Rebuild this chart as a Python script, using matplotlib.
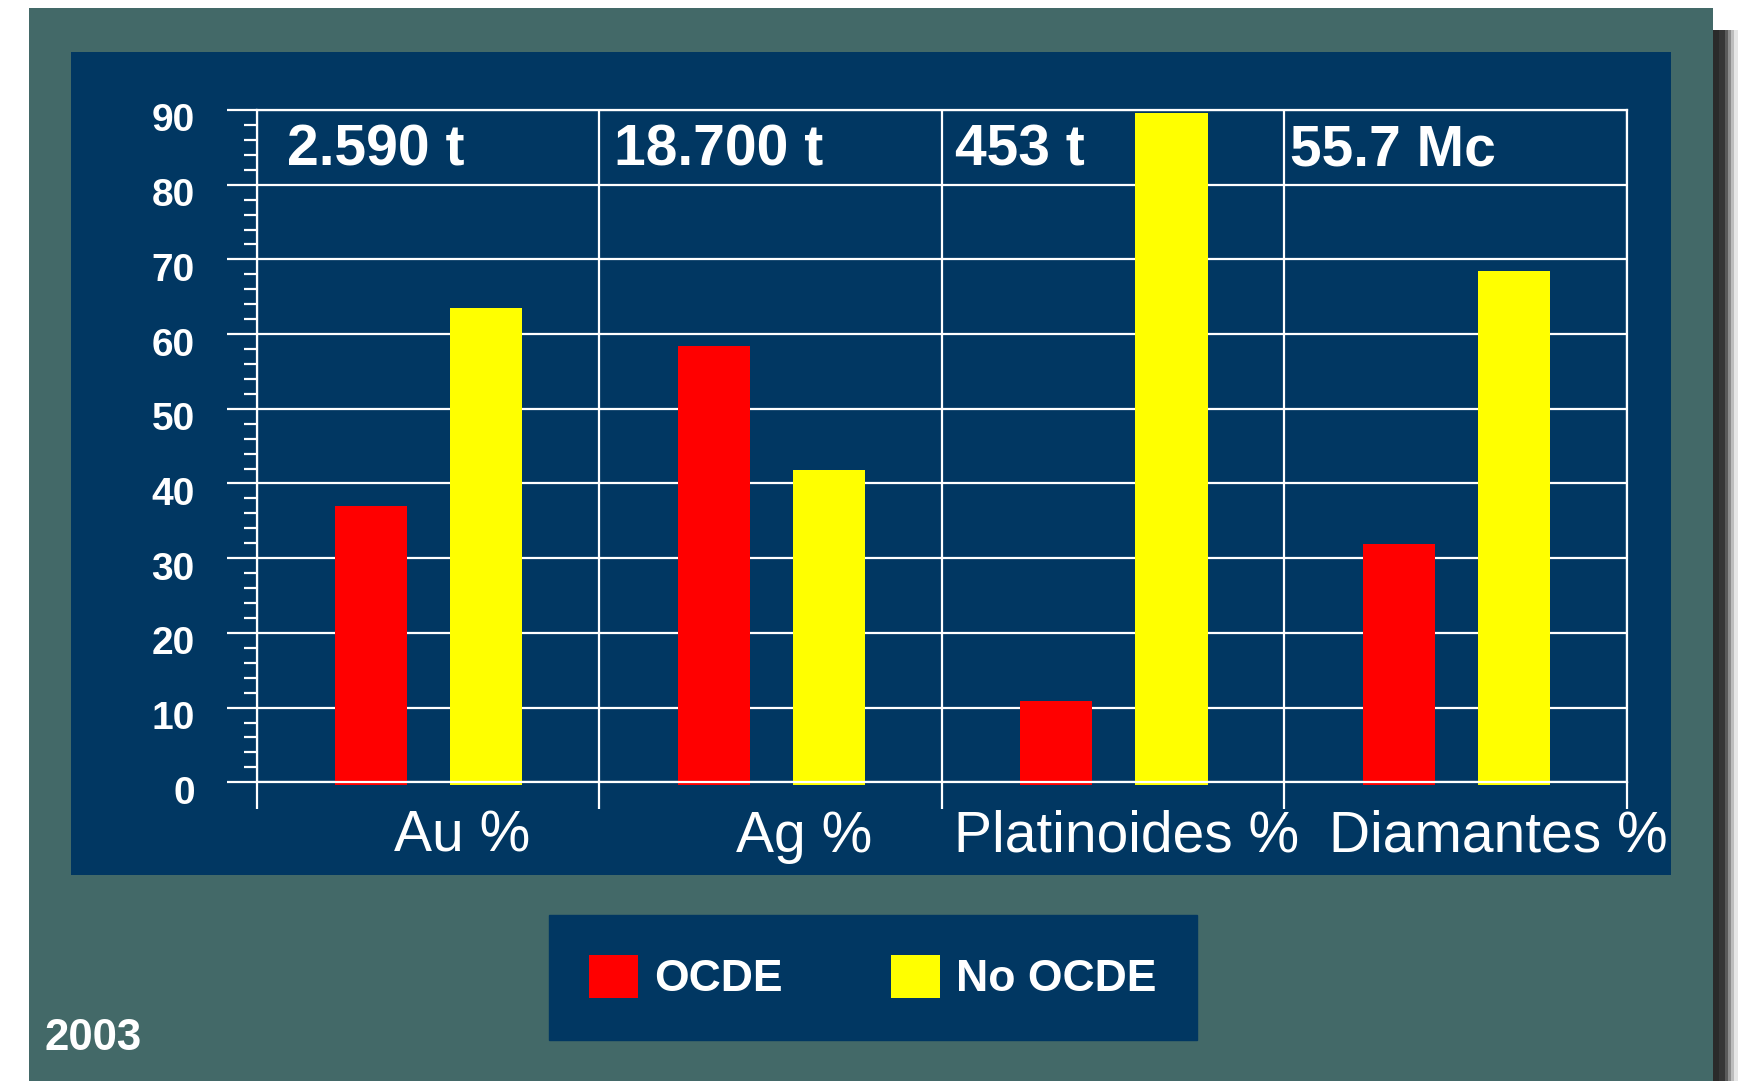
import matplotlib
matplotlib.use('Agg')
import matplotlib.pyplot as plt
from matplotlib.patches import Rectangle, Patch
from matplotlib.transforms import ScaledTranslation
import numpy as np

# data
categories = ['Au %', 'Ag %', 'Platinoides %', 'Diamantes %']
totals = ['2.590 t', '18.700 t', '453 t', '55.7 Mc']
ocde = [37.0, 58.4, 10.9, 31.9]
no_ocde = [63.5, 41.8, 89.6, 68.4]
series_names = ['OCDE', 'No OCDE']
year = '2003'

TEAL = '#436968'
NAVY = '#013762'
W, H = 1741, 1081

plt.rcParams['font.family'] = ['Liberation Sans', 'DejaVu Sans']


def box(x0, y0, x1, y1):
    # pixel box (top-left origin) -> figure fraction rect
    return (x0 / W, 1 - y1 / H, (x1 - x0) / W, (y1 - y0) / H)


def bg_rect(x0, y0, x1, y1, color):
    l, b, w, h = box(x0, y0, x1, y1)
    fig.add_artist(Rectangle((l, b), w, h, transform=fig.transFigure,
                             facecolor=color, edgecolor='none', zorder=-10))


fig = plt.figure(figsize=(W / 100, H / 100), dpi=100, facecolor='white')

# slide background, drop shadow and chart panel
for x0, x1, c in [(1713, 1719, '#2a2a2a'), (1719, 1725, '#363636'), (1725, 1728, '#5a5a5a'),
                  (1728, 1731, '#8c8c8c'), (1731, 1734, '#bdbdbd'), (1734, 1738, '#e6e6e6')]:
    bg_rect(x0, 30, x1, H, c)
bg_rect(29, 8, 1713, H, TEAL)
bg_rect(71, 52, 1671, 875, NAVY)

ax = fig.add_axes(box(256.5, 110, 1626.7, 782.3))
ax.set_facecolor('none')

n = len(categories)
x = np.arange(n) + 0.5
w = 0.211
ax.bar(x - 0.165, np.array(ocde) + 0.4, w, bottom=-0.4, color='#ff0000',
       edgecolor='none', zorder=2, clip_on=False)
ax.bar(x + 0.171, np.array(no_ocde) + 0.4, w, bottom=-0.4, color='#ffff00',
       edgecolor='none', zorder=2, clip_on=False)

ax.set_xlim(0, n)
ax.set_ylim(0, 90)
ax.set_yticks(range(0, 91, 10))
ax.set_yticks(range(0, 91, 2), minor=True)
ax.set_xticks(range(n + 1))
ax.set_xticklabels([''] * (n + 1))

ax.set_axisbelow(True)
ax.grid(True, which='major', color='white', lw=1.6)
for s in ax.spines.values():
    s.set_color('white')
    s.set_linewidth(1.6)
    s.set_zorder(3)

ax.tick_params(axis='y', which='major', length=21.5, width=1.6, color='white',
               pad=23, labelsize=28, labelcolor='white')
ax.tick_params(axis='y', which='minor', length=9.6, width=1.6, color='white')
ax.tick_params(axis='x', which='major', length=19.5, width=1.6, color='white')
# the slide's value labels sit a little below their gridlines
shift = ScaledTranslation(0, -0.075, fig.dpi_scale_trans)
for tick in ax.yaxis.get_major_ticks():
    tick.label1.set_fontweight('bold')
    tick.label1.set_transform(tick.label1.get_transform() + shift)

# category names under the axis
label_x = [0.60, 1.60, 2.54, 3.625]
for lx, name in zip(label_x, categories):
    ax.text(lx, -0.1034, name, transform=ax.get_xaxis_transform(),
            ha='center', va='baseline', fontsize=41, color='white')

# totals in the top row
head_x = [0.088, 1.044, 2.039, 3.017]
for hx, t in zip(head_x, totals):
    ax.text(hx, 82.6, t, ha='left', va='baseline', fontsize=41,
            fontweight='bold', color='white')

handles = [Patch(facecolor='#ff0000', edgecolor='none'),
           Patch(facecolor='#ffff00', edgecolor='none')]
leg = fig.legend(handles, series_names, loc='center', bbox_to_anchor=(0.5013, 0.0955),
                 ncol=2, frameon=True, fancybox=False, framealpha=1,
                 facecolor=NAVY, edgecolor=NAVY,
                 prop={'weight': 'bold', 'size': 32}, labelcolor='white',
                 handlelength=1.1, handleheight=1.1, handletextpad=0.36,
                 columnspacing=2.45, borderpad=0.9)

fig.text(44.4 / W, 1 - 1050 / H, year, ha='left', va='baseline',
         fontsize=31.5, fontweight='bold', color='white')

fig.savefig('out.png', dpi=100, facecolor='white')
